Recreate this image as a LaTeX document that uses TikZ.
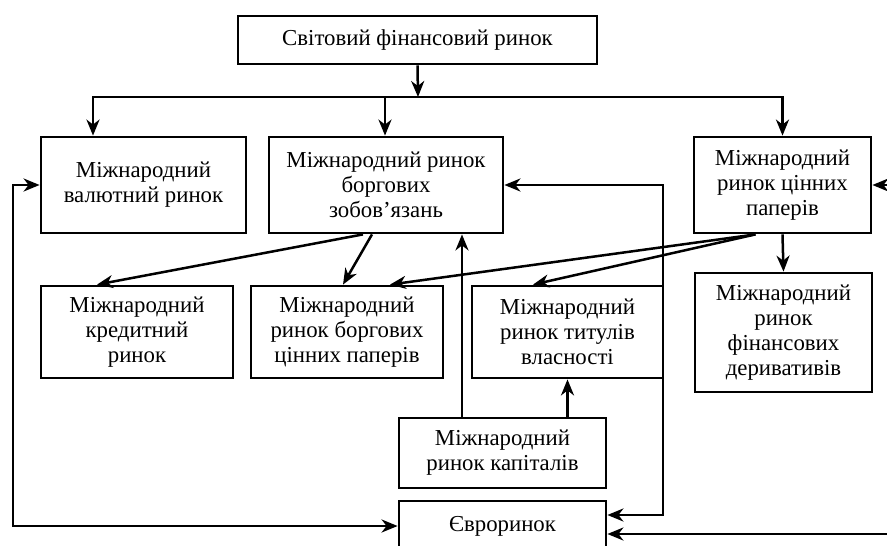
\documentclass[tikz,border=0pt]{standalone}
\usepackage{fontspec}
\setmainfont{Liberation Serif}
\usetikzlibrary{arrows.meta}
\begin{document}
\begin{tikzpicture}[x=1pt,y=-1pt,
  box/.style={draw, line width=2.8pt, align=center, inner sep=0pt, font=\fontsize{22.8}{25}\selectfont},
  tipx/.tip={Stealth[length=16pt,width=13pt,inset=5pt]},
  arr/.style={line width=2.5pt, -tipx},
  arrboth/.style={line width=2.5pt, tipx-tipx},
  ]
\useasboundingbox (0,0) rectangle (887,546);
\clip (0,0) rectangle (887,546);
\node[box, minimum width=359pt, minimum height=48pt] (top) at (417.5,40) {Світовий фінансовий ринок};
\node[box, minimum width=205pt, minimum height=96pt] (val) at (143.5,185) {Міжнародний\\валютний ринок};
\node[box, minimum width=234pt, minimum height=96pt] (bz) at (386,185) {Міжнародний ринок\\боргових\\зобов’язань};
\node[box, minimum width=177pt, minimum height=96pt] (cp) at (782.5,185) {Міжнародний\\ринок цінних\\паперів};
\node[box, minimum width=192pt, minimum height=92pt] (kred) at (137,332) {Міжнародний\\кредитний\\ринок};
\node[box, minimum width=192pt, minimum height=92pt] (bcp) at (347,332) {Міжнародний\\ринок боргових\\цінних паперів};
\node[box, minimum width=191pt, minimum height=92pt] (tit) at (567.5,332) {Міжнародний\\ринок титулів\\власності};
\node[box, minimum width=177pt, minimum height=119pt] (der) at (783.5,332.5) {Міжнародний\\ринок\\фінансових\\деривативів};
\node[box, minimum width=207pt, minimum height=70pt] (kap) at (502.5,453) {Міжнародний\\ринок капіталів};
\node[box, minimum width=207pt, minimum height=50pt] (evro) at (502.5,526) {Євроринок};

\coordinate (j) at (418,97);
\draw[arr] (top.south) -- (j);
\draw[arr] (j) -| ([xshift=-50.5pt]val.north);
\draw[arr] (j) -| ([xshift=-1pt]bz.north);
\draw[arr] (j) -| (cp.north);

\coordinate (l1) at (13,0);
\draw[arrboth] (val.west) -- (val.west -| l1) |- (evro.west);
\coordinate (v) at (663,0);
\draw[arrboth] (bz.east) -- (bz.east -| v) |- ([yshift=11pt]evro.east);
\coordinate (r1) at (892,185);
\coordinate (r2) at (892,534);
\draw[arr] (r1) -- (cp.east);
\draw[arr] (r2) -- ([yshift=-8pt]evro.east);

\draw[arr] ([xshift=-23pt]bz.south) -- ([xshift=-40pt]kred.north);
\draw[arr] ([xshift=-14pt]bz.south) -- ([xshift=-4pt]bcp.north);
\draw[arr] ([xshift=-27pt]cp.south) -- ([xshift=43pt]bcp.north);
\draw[arr] ([xshift=-27pt]cp.south) -- ([xshift=-34.5pt]tit.north);
\draw[arr] (cp.south) -- (der.north);

\draw[arr] (kap.north -| tit.south) -- (tit.south);
\coordinate (k1) at ([xshift=-40.5pt]kap.north);
\draw[arr] (k1) -- (k1 |- bz.south);
\end{tikzpicture}
\end{document}
